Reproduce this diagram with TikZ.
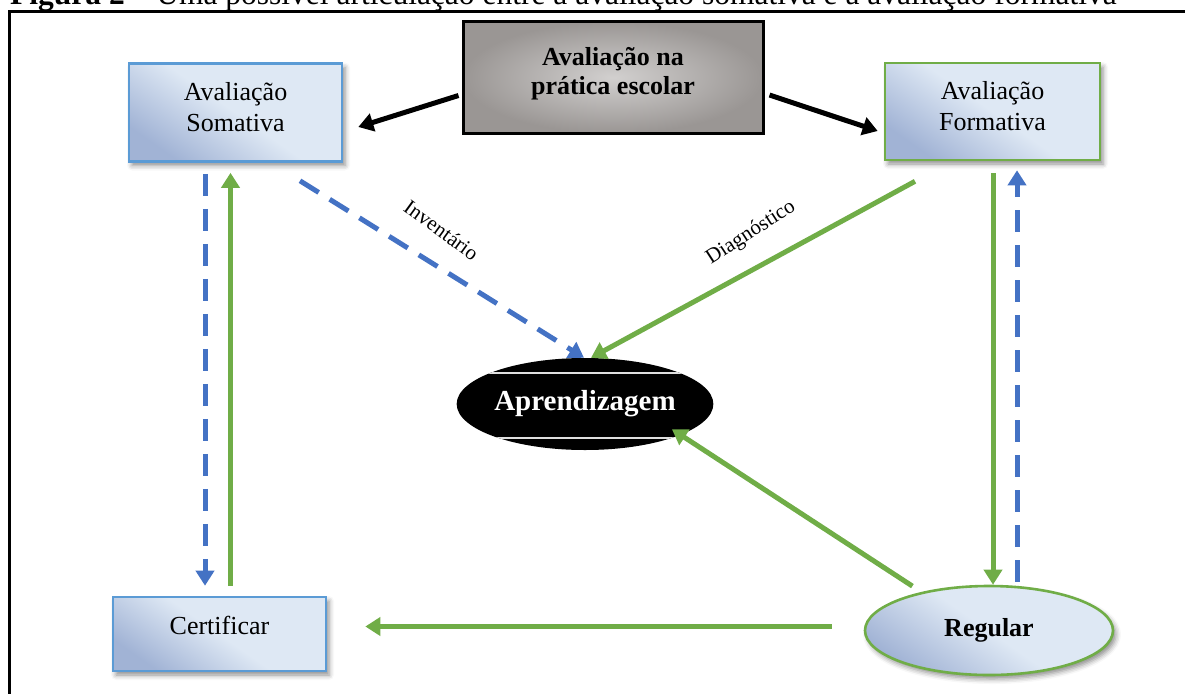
\documentclass[tikz,border=0pt]{standalone}
\usepackage{fontspec}
\setmainfont{Liberation Serif}
\usetikzlibrary{arrows.meta,shapes.geometric,shadows.blur}
\definecolor{caixaclara}{HTML}{DEE8F4}
\definecolor{caixaescura}{HTML}{A1B3D5}
\definecolor{bordaazul}{HTML}{5B9BD5}
\definecolor{verde}{HTML}{70AD47}
\definecolor{azul}{HTML}{4472C4}
\definecolor{cinzaclaro}{HTML}{D2D0CF}
\definecolor{cinzaescuro}{HTML}{9A9694}

\begin{document}
\begin{tikzpicture}[x=1pt, y=-1pt,
	sombra/.style={blur shadow={shadow xshift=3pt, shadow yshift=-4pt, shadow blur radius=5pt, shadow opacity=45}},
	degrade/.style={top color=caixaclara, bottom color=caixaescura, middle color=caixaclara, shading angle=-35},
	caixa/.style={rectangle, draw=bordaazul, line width=2.6pt, degrade, sombra, align=center, inner sep=0pt,
		font=\fontsize{26}{31}\selectfont, minimum width=213pt, minimum height=98pt, text depth=12pt},
	seta/.style={line width=5pt, -{Triangle[length=15pt,width=18pt]}},
	setapreta/.style={seta, black},
	setaverde/.style={seta, verde},
	setaazul/.style={seta, azul, dash pattern=on 22pt off 13pt},
	rotulo/.style={font=\fontsize{21}{24}\selectfont, inner sep=0pt}]
	\useasboundingbox (0,0) rectangle (1185,693);
	\node[anchor=base west, inner sep=0pt, font=\fontsize{31.5}{36}\selectfont] (titulo) at (10,5)
		{\textbf{Figura 2} – Uma possível articulação entre a avaliação somativa e a avaliação formativa};
	\draw[line width=2.5pt] (9.5,720) -- (9.5,11.5) -- (1200,11.5);

	\node[rectangle, draw=black, line width=3pt, inner color=cinzaclaro, outer color=cinzaescuro, align=center,
		font=\bfseries\fontsize{26}{29}\selectfont, minimum width=300pt, minimum height=111pt, text depth=14pt] (cen) at (613,77.5)
		{Avaliação na\\prática escolar};
	\node[caixa] (som) at (235.5,112.5) {Avaliação\\Somativa};
	\node[caixa, draw=verde, minimum width=215pt, minimum height=97pt] (form) at (992.5,111.5) {Avaliação\\Formativa};
	\node[caixa, minimum height=74pt, text depth=18pt] (cert) at (219.5,634) {Certificar};
	\node[ellipse, fill=black, text=white, inner sep=0pt, minimum width=244pt, minimum height=92pt,
		font=\bfseries\fontsize{29}{33}\selectfont,
		path picture={\draw[gray!25, line width=1.5pt] ([yshift=-15pt]path picture bounding box.north west) -- ([yshift=-15pt]path picture bounding box.north east);
			\draw[gray!25, line width=1.5pt] ([yshift=12pt]path picture bounding box.south west) -- ([yshift=12pt]path picture bounding box.south east);}] (apr) at (585,404) {Aprendizagem};
	\node[ellipse, draw=verde, line width=2.6pt, degrade, sombra, inner sep=0pt, minimum width=248pt, minimum height=89pt,
		font=\bfseries\fontsize{26}{30}\selectfont] (reg) at (989,630.5) {Regular};

	\draw[setapreta] ([shift={(-3pt,-18pt)}]cen.west) -- ([shift={(15pt,-14.5pt)}]som.east);
	\draw[setapreta] ([shift={(5pt,-17.5pt)}]cen.east) -- ([shift={(-6pt,-19.5pt)}]form.west);
	\draw[setaazul] ([shift={(-30.5pt,-11pt)}]som.south) -- ([shift={(-14.5pt,10pt)}]cert.north);
	\draw[setaverde] ([shift={(11pt,10pt)}]cert.north) -- ([shift={(-5pt,-10pt)}]som.south);
	\draw[setaazul] ([shift={(64.5pt,-18pt)}]som.south) -- ([xshift=-1pt]apr.north);
	\draw[setaverde] ([shift={(-77.5pt,-20pt)}]form.south) -- ([xshift=6pt]apr.north);
	\draw[setaverde] ([shift={(0.5pt,-12pt)}]form.south) -- ([xshift=4pt]reg.north);
	\draw[setaazul] ([shift={(28pt,3pt)}]reg.north) -- ([shift={(24.5pt,-9pt)}]form.south);
	\draw[setaverde] ([shift={(12pt,12pt)}]reg.north west) -- ([shift={(-4pt,7.5pt)}]apr.south east);
	\draw[setaverde] ([shift={(-32pt,4pt)}]reg.west) -- ([shift={(38pt,7.5pt)}]cert.east);

	\node[rotulo, rotate=-36] (inv) at (441.5,230) {Inventário};
	\node[rotulo, rotate=33] (diag) at (751,233) {Diagnóstico};
\end{tikzpicture}
\end{document}
